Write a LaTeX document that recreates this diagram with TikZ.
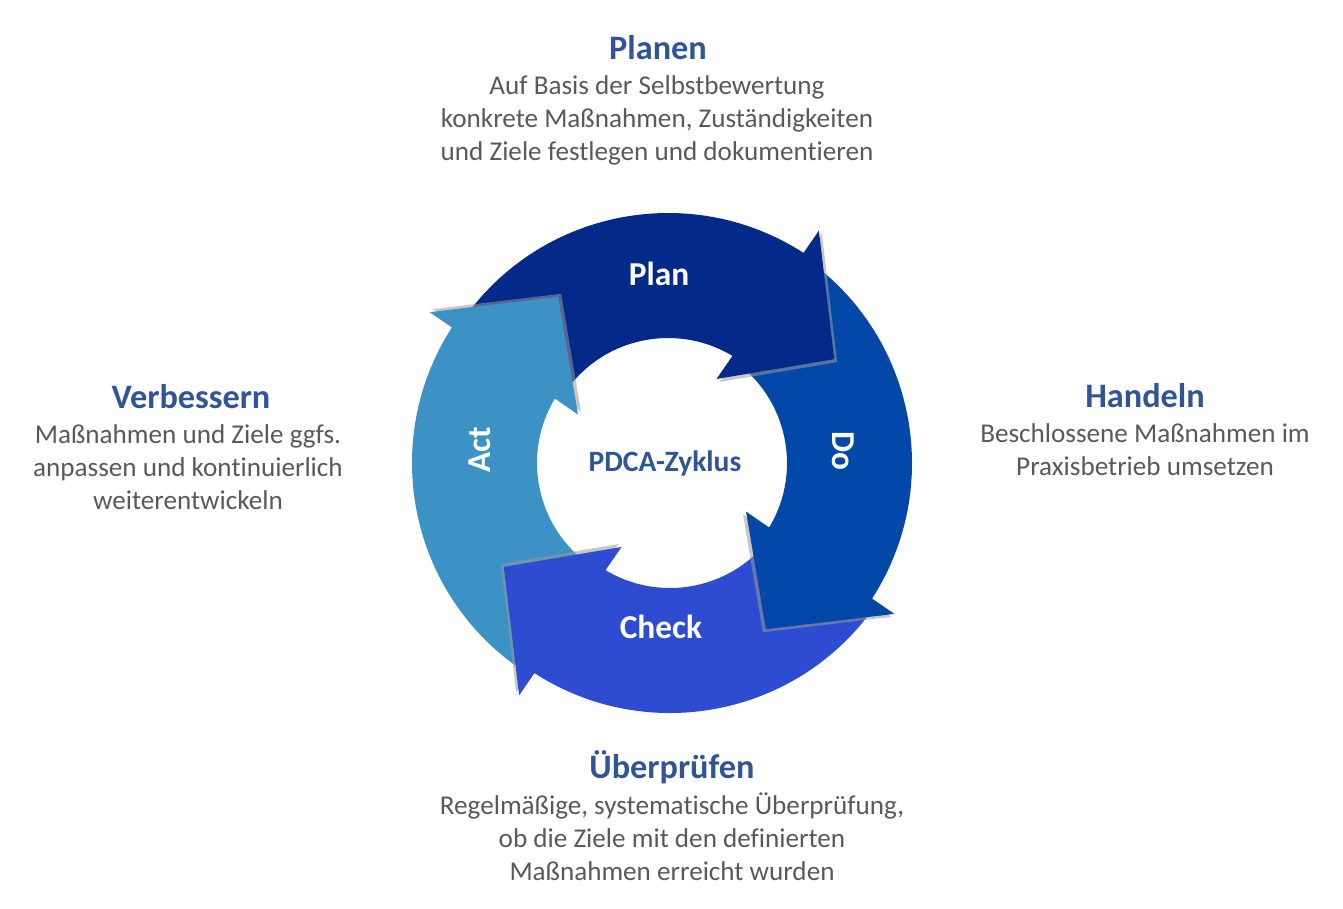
\documentclass[tikz,border=0pt]{standalone}
\usepackage{fontspec}
\setmainfont{Carlito}[Ligatures=NoCommon]
\definecolor{planblue}{HTML}{032A88}
\definecolor{doblue}{HTML}{0348A8}
\definecolor{checkblue}{HTML}{2E4CD2}
\definecolor{actblue}{HTML}{3C92C4}
\definecolor{headblue}{HTML}{2F5597}
\definecolor{textgray}{HTML}{595959}
\tikzset{
  phase/.style={font=\bfseries\fontsize{9.75}{11.5}\selectfont,text=headblue},
  desc/.style={font=\fontsize{7.72}{9.4}\selectfont,text=textgray,align=center},
  arrowlabel/.style={font=\bfseries\fontsize{9.5}{11}\selectfont,text=white},
  headshadow/.style={fill=black!40,opacity=.55}
}
\begin{document}
\begin{tikzpicture}[x=0.01cm,y=0.01cm]
  \useasboundingbox (-662,-445) rectangle (681,463);
  % bodies of the four arrows
  \foreach \rot/\dx/\col in {0/6/planblue,-90/0/doblue,-180/8/checkblue,90/0/actblue}
  {
    \begin{scope}[shift={(\dx,0)},rotate=\rot]
      \fill[\col] (144:250) arc[start angle=144,end angle=55,radius=250]
        -- (55:125) arc[start angle=55,end angle=144,radius=125] -- cycle;
    \end{scope}
  }
  % heads on top
  \foreach \rot/\dx/\col in {0/6/planblue,-90/0/doblue,-180/8/checkblue,90/0/actblue}
  {
    \begin{scope}[shift={(\dx,0)},rotate=\rot]
      \fill[headshadow,xshift=0.03cm,yshift=-0.03cm] (57:277) -- (32:196) -- (60:97) -- cycle;
      \fill[\col] (57:277) -- (32:196) -- (60:97) -- cycle;
    \end{scope}
  }
  \node[arrowlabel] (plan) at (-3,189) {Plan};
  \node[arrowlabel,rotate=-90] (do) at (181,12) {Do};
  \node[arrowlabel] (check) at (-1,-164) {Check};
  \node[arrowlabel,rotate=90] (act) at (-182,13) {Act};
  \node[font=\bfseries\fontsize{8.4}{10}\selectfont,text=headblue] (zyklus) at (3,0) {PDCA-Zyklus};
  % texts around the cycle
  \node[phase] (planen) at (-4,415) {Planen};
  \node[desc] (planentext) at (-5,343) {Auf Basis der Selbstbewertung\\konkrete Maßnahmen, Zuständigkeiten\\und Ziele festlegen und dokumentieren};
  \node[phase] (handeln) at (483,67) {Handeln};
  \node[desc] (handelntext) at (483,13) {Beschlossene Maßnahmen im\\Praxisbetrieb umsetzen};
  \node[phase] (pruefen) at (10,-304) {Überprüfen};
  \node[desc] (pruefentext) at (10,-374) {Regelmäßige, systematische Überprüfung,\\ob die Ziele mit den definierten\\Maßnahmen erreicht wurden};
  \node[phase] (verbessern) at (-471,66) {Verbessern};
  \node[desc] (verbessserntext) at (-474,-4) {Maßnahmen und Ziele ggfs.\\anpassen und kontinuierlich\\weiterentwickeln};
\end{tikzpicture}
\end{document}
